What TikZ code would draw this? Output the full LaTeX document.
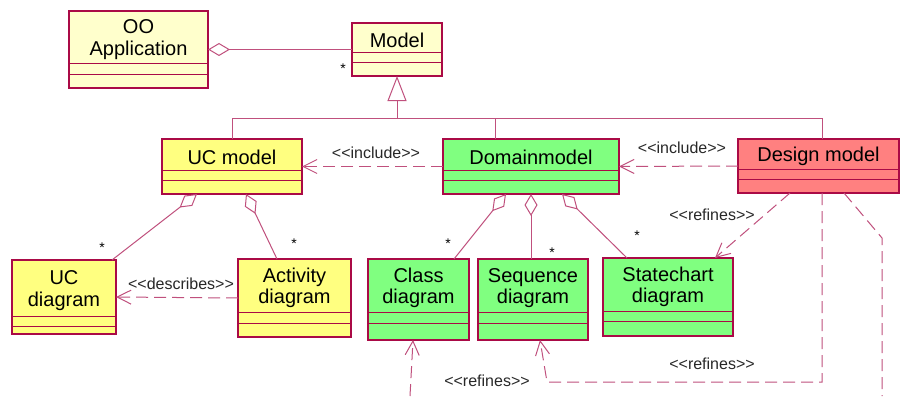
\documentclass[tikz,border=0pt]{standalone}
\usepackage{fontspec}
\setmainfont{Liberation Sans}
\usetikzlibrary{arrows.meta}
\definecolor{bordcol}{RGB}{170,10,70}
\definecolor{conncol}{RGB}{192,80,125}
\definecolor{paley}{RGB}{255,255,204}
\definecolor{ucy}{RGB}{255,255,128}
\definecolor{grn}{RGB}{128,255,128}
\definecolor{redf}{RGB}{255,128,128}
\definecolor{lblcol}{RGB}{40,40,40}
\newcommand\opq{<\kern0pt<}
\newcommand\clq{>\kern0pt>}
\newcommand\umlcls[9]{%
  \node[clsbox,fill=#8,minimum width={(#4-#2)*1pt},minimum height={(#5-#3)*1pt},anchor=north west] (#1) at (#2,#3) {};
  \draw[clsline] (#2,#6) -- (#4,#6) (#2,#7) -- (#4,#7);
  \node[clstext] (#1-t) at ({(#2+#4)/2},{(#3+#6)/2+2.5}) {#9};
}
\begin{document}
\begin{tikzpicture}[x=1pt,y=-1pt,
  clsbox/.style={draw=bordcol,line width=1.2pt,rectangle,inner sep=0pt,outer sep=0pt},
  clsline/.style={draw=bordcol,line width=1pt},
  clstext/.style={font=\fontsize{20}{21.5}\selectfont,align=center,inner sep=0pt},
  assoc/.style={draw=conncol,line width=1pt},
  depend/.style={assoc,dash pattern=on 12pt off 6pt},
  lbl/.style={font=\fontsize{16}{18}\selectfont,text=lblcol,inner sep=0pt},
  star/.style={font=\fontsize{14}{14}\selectfont,inner sep=0pt},
  aggr/.style={{Diamond[open,length=22pt,width=13pt]}-},
  vtip/.style={-{Straight Barb[length=14pt,width=14pt]}},
  gentip/.style={{Triangle[open,length=25pt,width=19pt]}-}]
\useasboundingbox (0,0) rectangle (901,396);
\fill[white] (0,0) rectangle (901,396);
% classes
\umlcls{ooapp}{69}{11}{208}{88}{63}{74}{paley}{OO\\Application}
\umlcls{model}{352}{23}{442}{76}{53}{62}{paley}{Model}
\umlcls{ucmodel}{162}{139}{302}{194}{170}{180}{ucy}{UC model}
\umlcls{domain}{443}{139}{619}{194}{170}{180}{grn}{Domainmodel}
\umlcls{design}{738}{139}{899}{193}{169}{179}{redf}{Design model}
\umlcls{ucdiag}{12}{260}{116}{334}{316}{326}{ucy}{UC\\diagram}
\umlcls{activity}{238}{259}{351}{337}{312}{323}{ucy}{Activity\\diagram}
\umlcls{classd}{368}{259}{469}{340}{312}{323}{grn}{Class\\diagram}
\umlcls{seq}{478}{259}{588}{340}{312}{323}{grn}{Sequence\\diagram}
\umlcls{state}{603}{258}{733}{336}{311}{321}{grn}{Statechart\\diagram}
% OO Application -- Model
\draw[assoc,aggr] (ooapp.east) -- (model.west);
\node[star] (s0) at (343,69) {*};
% generalization
\coordinate (gJ) at (397,118);
\coordinate (gL) at (232,118);
\coordinate (gD) at (495,118);
\coordinate (gR) at (822,118);
\draw[assoc,gentip] (model.south) -- (gJ);
\draw[assoc] (ucmodel.north) -- (gL) -- (gR) -- (gR |- design.north);
\draw[assoc] (gD) -- (gD |- domain.north);
% include
\draw[depend,vtip] (domain.west) -- (ucmodel.east);
\node[lbl] (inc1) at (376,153) {\opq include\clq};
\draw[depend,vtip] (design.west) -- (domain.east);
\node[lbl] (inc2) at (682,148) {\opq include\clq};
% UC model aggregations
\draw[assoc,aggr] ([xshift=-35pt]ucmodel.south) -- ([xshift=-4pt]ucdiag.north east);
\node[star] (s1) at (102,248) {*};
\draw[assoc,aggr] ([xshift=14pt]ucmodel.south) -- ([xshift=-17.5pt]activity.north);
\node[star] (s2) at (294,244) {*};
% describes
\draw[depend,vtip] (activity.west) -- (ucdiag.east);
\node[lbl] (desc) at (181,284) {\opq describes\clq};
% Domain model aggregations
\draw[assoc,aggr] ([xshift=-25pt]domain.south) -- ([xshift=35.5pt]classd.north);
\node[star] (s3) at (448,244) {*};
\draw[assoc,aggr] (domain.south) -- ([xshift=-2pt]seq.north);
\node[star] (s4) at (552,253) {*};
\draw[assoc,aggr] ([xshift=31pt]domain.south) -- ([xshift=-41pt]state.north);
\node[star] (s5) at (637,236) {*};
% refines
\draw[depend,vtip] ([xshift=-28.5pt]design.south) -- ([xshift=47pt]state.north);
\node[lbl] (ref1) at (712,215) {\opq refines\clq};
\coordinate (r2a) at (822,382);
\coordinate (r2b) at (547,382);
\draw[depend,vtip] ([xshift=3.5pt]design.south) -- (r2a) -- (r2b) -- ([xshift=7pt]seq.south);
\node[lbl] (ref2) at (712,364) {\opq refines\clq};
\coordinate (r3a) at (882,238);
\coordinate (r3b) at (882,396);
\draw[depend] ([xshift=25.5pt]design.south) -- (r3a) -- (r3b);
\coordinate (r4a) at (410,396);
\draw[depend,vtip] (r4a) -- ([xshift=-5.5pt]classd.south);
\node[lbl] (ref3) at (487,381) {\opq refines\clq};
\end{tikzpicture}
\end{document}
